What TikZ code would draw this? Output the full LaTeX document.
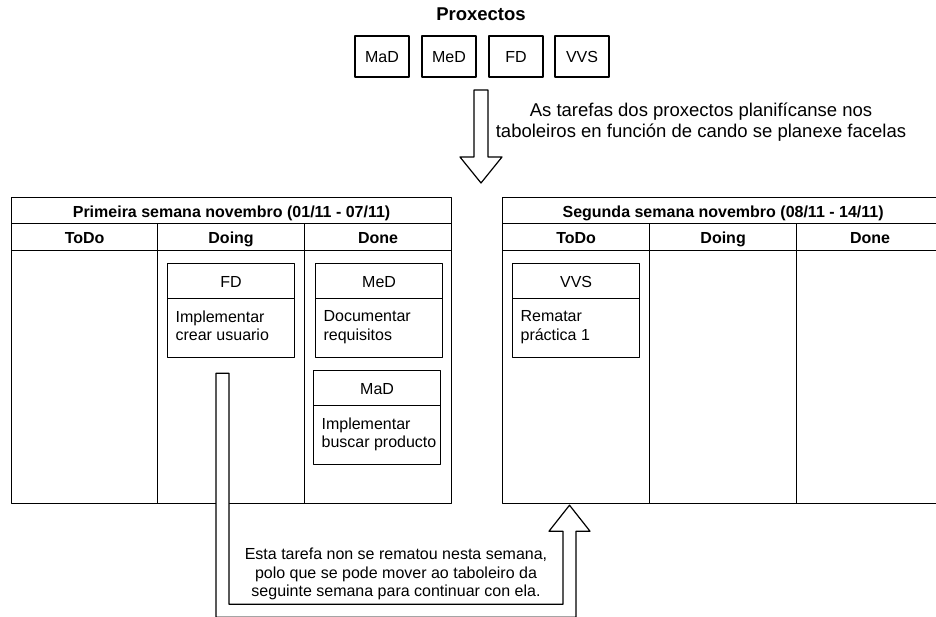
\documentclass[tikz,border=0pt]{standalone}
\usepackage{fontspec}
\setmainfont{Liberation Sans}
\usetikzlibrary{calc}
\begin{document}
\begin{tikzpicture}[x=1pt,y=-1pt,line width=1.2pt,line join=round,
  every node/.style={font=\fontsize{16}{18.6}\selectfont,inner sep=0pt},
  oneline/.style={text height=15pt,text depth=2pt},
  proj/.style={draw,oneline,minimum width=54pt,minimum height=41pt},
  cell/.style={draw,anchor=north west,oneline},
  bold/.style={font=\fontsize{16}{18.6}\selectfont\bfseries},
  btitle/.style={cell,bold,minimum width=440pt,minimum height=26pt},
  bhead/.style={cell,bold,minimum height=27pt},
  bcol/.style={cell,minimum height=253pt},
  chead/.style={cell,minimum width=127pt,minimum height=35pt},
  cbody/.style={cell,minimum width=127pt,minimum height=59pt},
  ctext/.style={anchor=north west,align=left},
  blockarrow/.style={draw,fill=white}]
\useasboundingbox (0,0) rectangle (936,617);

% projects
\node[bold,font=\fontsize{18.5}{22}\selectfont\bfseries,anchor=base] (ptitle) at (481,21) {Proxectos};
\node[proj] (pmad) at (382,56.5) {MaD};
\node[proj] (pmed) at (449,56.5) {MeD};
\node[proj] (pfd)  at (516,56.5) {FD};
\node[proj] (pvvs) at (582,56.5) {VVS};

% planning arrow
\coordinate (plan) at (481,90);
\draw[blockarrow] (plan) ++(-7,0) -- ++(14,0) -- ++(0,67) -- ++(14,0) -- ++(-21,26) -- ++(-21,-26) -- ++(14,0) -- cycle;
\node[align=center,anchor=north,font=\fontsize{18.5}{21}\selectfont] (plantext) at (701,102.5)
  {As tarefas dos proxectos planifícanse nos\\taboleiros en función de cando se planexe facelas};

% first week board
\node[btitle] (b1) at (11,197) {Primeira semana novembro (01/11 - 07/11)};
\node[bhead,minimum width=146pt] (b1todo)  at (11,223)  {ToDo};
\node[bhead,minimum width=147pt] (b1doing) at (157,223) {Doing};
\node[bhead,minimum width=147pt] (b1done)  at (304,223) {Done};
\node[bcol,minimum width=146pt] (b1c1) at (11,250) {};
\node[bcol,minimum width=147pt] (b1c2) at (157,250) {};
\node[bcol,minimum width=147pt] (b1c3) at (304,250) {};

\node[chead] (fdh) at (167,263) {FD};
\node[cbody] (fdb) at (167,298) {};
\node[ctext] (fdt) at ($(fdb.north west)+(8,12)$) {Implementar\\crear usuario};
\node[chead] (medh) at (315,263) {MeD};
\node[cbody] (medb) at (315,298) {};
\node[ctext] (medt) at ($(medb.north west)+(8,12)$) {Documentar\\requisitos};
\node[chead] (madh) at (313,370) {MaD};
\node[cbody] (madb) at (313,405) {};
\node[ctext] (madt) at ($(madb.north west)+(8,12)$) {Implementar\\buscar producto};

% second week board
\node[btitle,minimum width=441pt] (b2) at (502,197) {Segunda semana novembro (08/11 - 14/11)};
\node[bhead,minimum width=147pt] (b2todo)  at (502,223) {ToDo};
\node[bhead,minimum width=147pt] (b2doing) at (649,223) {Doing};
\node[bhead,minimum width=147pt] (b2done)  at (796,223) {Done};
\node[bcol,minimum width=147pt] (b2c1) at (502,250) {};
\node[bcol,minimum width=147pt] (b2c2) at (649,250) {};
\node[bcol,minimum width=147pt] (b2c3) at (796,250) {};

\node[chead] (vvsh) at (512,263) {VVS};
\node[cbody] (vvsb) at (512,298) {};
\node[ctext] (vvst) at ($(vvsb.north west)+(8,12)$) {Rematar\\práctica 1};

% carry-over arrow from the first board to the second
\coordinate (carry) at ($(fdb.south west)+(55.5,15)$);
\draw[blockarrow] (carry) ++(-6.5,0) -- ++(13,0) -- ++(0,231) -- ++(334,0) -- ++(0,-73)
  -- ++(-14,0) -- ++(20.5,-26) -- ++(20.5,26) -- ++(-14,0) -- ++(0,86) -- ++(-360,0) -- cycle;
\node[align=center,anchor=north] (carrytext) at (396,547.3)
  {Esta tarefa non se rematou nesta semana,\\polo que se pode mover ao taboleiro da\\seguinte semana para continuar con ela.};
\end{tikzpicture}
\end{document}
